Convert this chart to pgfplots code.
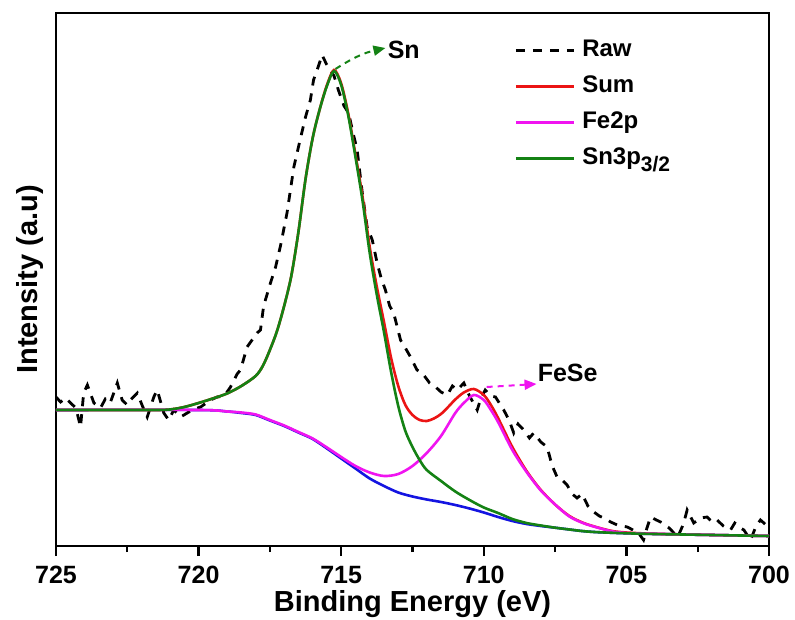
\documentclass[border=0pt]{standalone}
\usepackage{fontspec}
\setmainfont{Liberation Sans}
\usepackage{pgfplots}
\pgfplotsset{compat=1.18}
\usetikzlibrary{arrows.meta}
\definecolor{rawc}{RGB}{0,0,0}
\definecolor{sumc}{RGB}{235,20,20}
\definecolor{fec}{RGB}{240,20,240}
\definecolor{snc}{RGB}{20,130,20}
\definecolor{bgc}{RGB}{20,20,225}

\pgfplotstableread{
x y
725.0 149
724.84 144
724.66 148
724.49 143
724.3 138
724.14 119
724.03 153
723.9 161
723.67 143
723.44 138
723.27 147
723.1 143
722.85 163
722.68 146
722.5 141
722.39 146
722.15 153
721.97 140
721.8 129
721.57 149
721.45 156
721.22 133
721.05 126
720.87 136
720.63 129
720.4 133
720.15 137
719.93 139
719.58 146
719.35 149
719.1 150
718.88 159
718.65 172
718.53 176
718.3 199
717.95 213
717.83 216
717.72 240
717.48 263
717.3 279
717.13 300
716.9 333
716.66 379
716.45 405
716.25 429
716.08 446
715.97 466
715.82 478
715.67 491
715.52 482
715.38 476
715.25 470
715.1 456
714.9 440
714.74 433
714.6 415
714.44 396
714.26 353
714.09 319
713.91 306
713.74 283
713.6 268
713.45 256
713.3 240
713.16 233
712.92 206
712.75 198
712.57 189
712.34 176
712.16 173
711.9 163
711.69 159
711.5 154
711.28 151
711.1 160
710.93 156
710.7 163
710.5 150
710.23 136
710.1 148
709.95 156
709.75 150
709.59 149
709.3 136
709.1 125
708.95 113
708.8 122
708.6 116
708.4 108
708.25 113
708.0 104
707.78 99
707.6 80
707.43 69
707.25 66
707.08 61
706.9 52
706.73 48
706.55 52
706.35 40
706.14 34
705.95 30
705.79 28
705.55 24
705.32 21
705.15 20
704.97 19
704.7 15
704.55 12
704.4 6
704.28 18
704.15 29
703.95 26
703.8 24
703.5 18
703.2 9
703.0 22
702.87 36
702.64 23
702.4 28
702.17 29
702.0 24
701.82 26
701.6 20
701.35 16
701.2 23
701.0 18
700.88 16
700.65 6
700.45 20
700.3 26
700.1 21
}\rawdata

\pgfplotstableread{
x y
725 136
723 136
721.5 136
721 136.5
720.5 139
720 143
719.5 147.5
719 152.5
718.5 160
718 170
717.75 180
717.5 196
717.25 215
717 240
716.75 270
716.5 314
716.25 367
716 408
715.75 437
715.5 461
715.25 476
715 462.5
714.75 432
714.5 391.5
714.25 349
714 299
713.75 259
713.5 224
713.25 188
713 160
712.75 141
712.5 131
712.25 126
712 125
711.75 127.5
711.5 132
711.25 139
711 146.5
710.7 153.5
710.35 157
710 151
709.75 141
709.5 128
709 99
708.5 75
708 56
707.5 41.5
707 30
706.5 23
706 18.5
705.5 15
705 13.5
704 12.2
702 11
700 10
}\sumdata

\pgfplotstableread{
x y
725 136
720 136
719 134.5
718.5 133.5
718 131.5
717.5 126
717 120.5
716.5 114
716 107.5
715.5 98.5
715 89
714.5 80
714 73.5
713.5 70
713 72
712.5 80
712 93
711.5 110
711 133
710.7 143
710.35 151
710 146
709.75 136
709.5 124
709 96
708.5 74
708 55.5
707.5 41.5
707 29.5
706.5 22.7
706 18.3
705.5 14.6
705 13
704 12.2
702 11
700 10
}\fedata

\pgfplotstableread{
x y
725 136
723 136
721.5 136
721 136.5
720.5 139
720 143
719.5 147.5
719 152.5
718.5 160
718 170
717.75 180
717.5 196
717.25 215
717 240
716.75 270
716.5 314
716.25 367
716 408
715.75 437
715.5 460
715.25 475
715 461
714.75 430
714.5 389
714.25 345
714 293
713.75 251
713.5 214
713.25 174
713 140
712.75 115
712.5 99
712.25 86
712 76
711.5 65
711 54.5
710.5 46
710 38.5
709.5 33
709 27
708.5 23
708 20.5
707.5 18.3
707 16.5
706.5 14.8
706 13.8
705 12.7
704 12
702 11
700 10
}\sndata

\pgfplotstableread{
x y
725 136
720 136
719 134.5
718.5 133
718 131
717.5 125.5
717 120
716.5 113.5
716 107
715.5 97.5
715 87.5
714.5 77.5
714 67.5
713.5 60
713 53.5
712.5 49.5
712 46.5
711.5 44
711 41
710.5 37.5
710 33.5
709.5 29
709 25
708.5 22
708 20
707.5 18.3
707 16.5
706.5 14.8
706 13.8
705 12.7
704 12
702 11
700 10
}\bgdata

\begin{document}
\begin{tikzpicture}
\begin{axis}[
  scale only axis,
  width=356.5pt, height=266.5pt,
  xmin=700, xmax=725, ymin=0, ymax=533,
  x dir=reverse,
  axis line style={line width=1.2pt},
  xtick={700,705,...,725},
  minor x tick num=1,
  ytick=\empty,
  xtick pos=bottom,
  tick align=outside,
  major tick length=5pt, minor tick length=3pt,
  every tick/.style={black, line width=1.2pt},
  /pgf/number format/assume math mode=true,
  tick label style={font=\fontsize{12.5}{12.5}\selectfont\bfseries},
  xticklabel style={inner sep=0pt, anchor=north, yshift=-5pt, text depth=0pt},
  xlabel={Binding Energy (eV)},
  ylabel={Intensity (a.u)},
  label style={font=\fontsize{14.5}{14.5}\selectfont\bfseries},
  xlabel style={at={(axis description cs:0.5,-0.109)}, anchor=center, inner sep=0pt,
    text height=10.4pt, text depth=3pt},
  ylabel style={at={(axis description cs:-0.0365,0.5)}, anchor=center, inner sep=0pt},
  legend style={draw=none, fill=none, inner sep=0pt,
    at={(axis description cs:0.6424,0.958)}, anchor=north west,
    font=\fontsize{12}{12}\selectfont\bfseries, row sep=3pt, column sep=2pt,
    nodes={inner sep=1.5pt, text height=9pt, text depth=3pt}},
  legend cell align=left,
  legend image code/.code={\draw[#1] (0cm,0cm) -- (1.02cm,0cm);},
]
\addplot[bgc, line width=1.3pt, smooth, forget plot] table {\bgdata};
\addplot[rawc, line width=1.4pt, dash pattern=on 4.5pt off 4pt] table {\rawdata};
\addlegendentry{Raw}
\addplot[sumc, line width=1.3pt, smooth] table {\sumdata};
\addlegendentry{Sum}
\addplot[fec, line width=1.3pt, smooth] table {\fedata};
\addlegendentry{Fe2p}
\addplot[snc, line width=1.3pt, smooth] table {\sndata};
\addlegendentry{Sn3p\raisebox{-0.55ex}{\fontsize{10.5}{10.5}\selectfont 3/2}}
\draw[snc, line width=1pt, dash pattern=on 3pt off 2.5pt, -{Triangle[length=6pt,width=5pt]}]
  (axis cs:715.2,477) to[bend left=10] (axis cs:713.45,498);
\node[anchor=west, inner sep=0pt, font=\fontsize{12.5}{12.5}\selectfont\bfseries]
  at (axis cs:713.38,496) {Sn};
\draw[fec, line width=1pt, dash pattern=on 3pt off 2.5pt, -{Triangle[length=6pt,width=5pt]}]
  (axis cs:709.9,159) -- (axis cs:708.15,162);
\node[anchor=west, inner sep=0pt, font=\fontsize{12.5}{12.5}\selectfont\bfseries]
  at (axis cs:708.12,173) {FeSe};
\end{axis}
\path (current axis.south west) ++(-28pt,-36.5pt) (current axis.north east) ++(13pt,6.5pt);
\end{tikzpicture}
\end{document}
